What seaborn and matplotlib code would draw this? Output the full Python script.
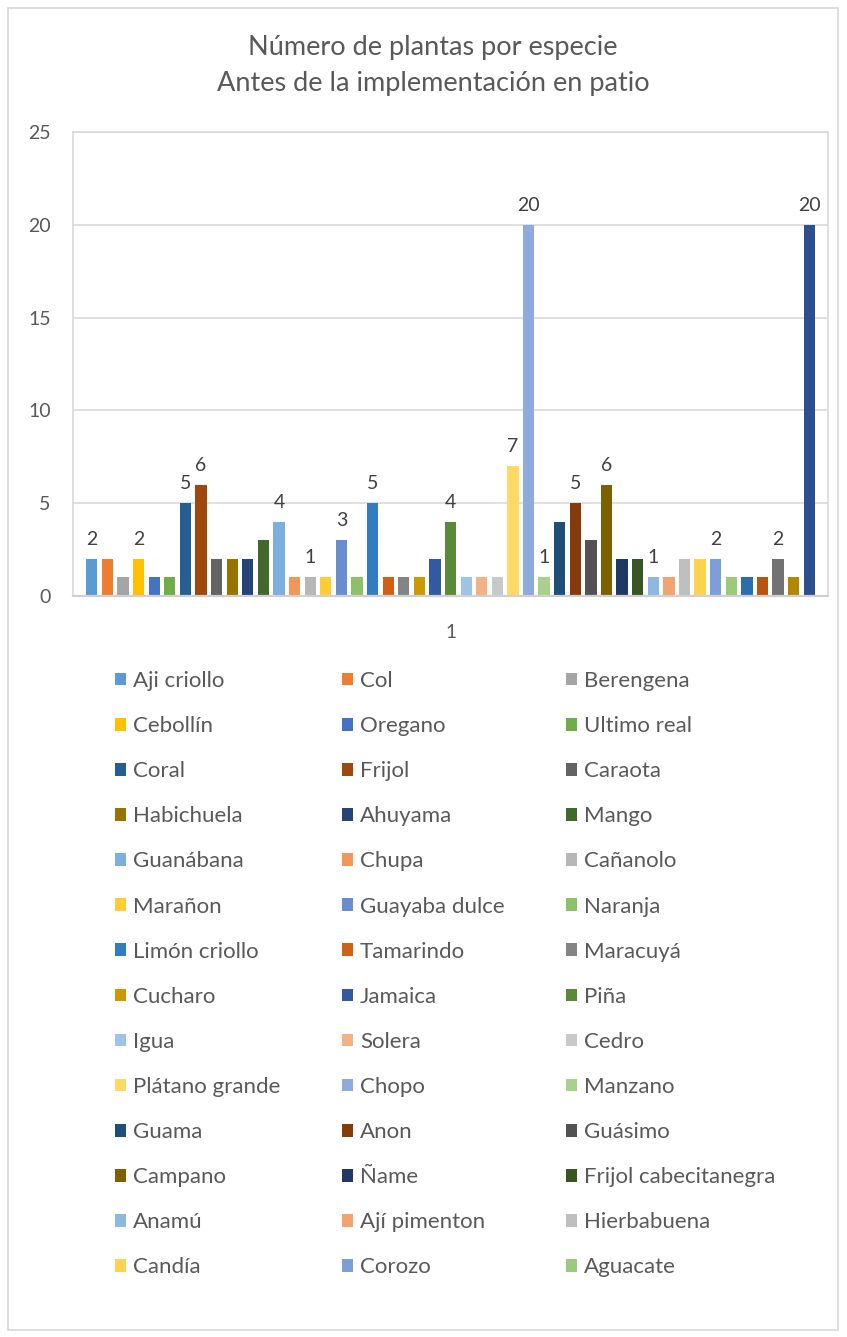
import pandas as pd
import seaborn as sns
import matplotlib.pyplot as plt
from matplotlib.patches import Patch, Rectangle

# Species shown in the legend (Excel only showed the first 42 series)
especies = [
    "Aji criollo", "Col", "Berengena", "Cebollín", "Oregano", "Ultimo real",
    "Coral", "Frijol", "Caraota", "Habichuela", "Ahuyama", "Mango",
    "Guanábana", "Chupa", "Cañanolo", "Marañon", "Guayaba dulce", "Naranja",
    "Limón criollo", "Tamarindo", "Maracuyá", "Cucharo", "Jamaica", "Piña",
    "Igua", "Solera", "Cedro", "Plátano grande", "Chopo", "Manzano",
    "Guama", "Anon", "Guásimo", "Campano", "Ñame", "Frijol cabecitanegra",
    "Anamú", "Ají pimenton", "Hierbabuena", "Candía", "Corozo", "Aguacate",
]
# series drawn in the chart but cut off from the legend
especies_extra = ["Serie 43", "Serie 44", "Serie 45", "Serie 46", "Serie 47"]

cantidades = [
    2, 2, 1, 2, 1, 1,
    5, 6, 2, 2, 2, 3,
    4, 1, 1, 1, 3, 1,
    5, 1, 1, 1, 2, 4,
    1, 1, 1, 7, 20, 1,
    4, 5, 3, 6, 2, 2,
    1, 1, 2, 2, 2, 1,
    1, 1, 2, 1, 20,
]

# only some bars carry a data label in the original
con_etiqueta = [0, 3, 6, 7, 12, 14, 16, 18, 23, 27, 28, 29, 31, 33, 36, 40, 44, 46]

colores = [
    "#5B9BD5", "#ED7D31", "#A5A5A5", "#FFC000", "#4472C4", "#70AD47",
    "#255E91", "#9E480E", "#636363", "#997300", "#264478", "#43682B",
    "#7CAFDD", "#F1975A", "#B7B7B7", "#FFCD33", "#698ED0", "#8CC168",
    "#327DC2", "#D26012", "#848484", "#CC9A00", "#335AA1", "#5A8A39",
    "#9DC3E6", "#F4B183", "#C9C9C9", "#FFD966", "#8FAADC", "#A9D18E",
    "#1F4E79", "#843C0C", "#525252", "#7F6000", "#203864", "#375623",
    "#8CB8E2", "#F2A36F", "#BFBFBF", "#FFD34D", "#7E9ED7", "#9BCA7A",
    "#2C6DAB", "#B85511", "#727272", "#B38700", "#2C4F8D",
]

todas = especies + especies_extra
df = pd.DataFrame({"grupo": "1", "especie": todas, "cantidad": cantidades})

sns.set_style("white")
plt.rcParams["font.family"] = ["Lato", "DejaVu Sans"]
gris = "#595959"

fig = plt.figure(figsize=(8.47, 13.37), dpi=100)
ax = fig.add_axes([0.0862, 0.5542, 0.8914, 0.3471])

sns.barplot(data=df, x="grupo", y="cantidad", hue="especie", hue_order=todas,
            palette=colores, width=0.971, gap=0.28, legend=False,
            saturation=1, linewidth=0, edgecolor="none", ax=ax)

for i in con_etiqueta:
    ax.bar_label(ax.containers[i], padding=8, fontsize=14, color="#404040")

ax.set_ylim(0, 25)
ax.set_xlim(-0.5, 0.5)
ax.set_yticks(range(0, 26, 5))
ax.set_xlabel("")
ax.set_ylabel("")
ax.tick_params(axis="y", length=0, labelsize=14, labelcolor=gris, pad=16)
ax.tick_params(axis="x", length=0, labelsize=13.5, labelcolor=gris, pad=20)
ax.yaxis.grid(True, color="#D9D9D9", linewidth=1.2)
ax.set_axisbelow(True)
for lado in ["left", "right", "top"]:
    ax.spines[lado].set_color("#D9D9D9")
    ax.spines[lado].set_linewidth(1.2)
ax.spines["bottom"].set_color("#D0D0D0")
ax.spines["bottom"].set_linewidth(1.6)

fig.text(0.511, 1 - 47 / 1337, "Número de plantas por especie",
         ha="center", va="center", fontsize=19.5, color=gris)
fig.text(0.511, 1 - 83 / 1337, "Antes de la implementación en patio",
         ha="center", va="center", fontsize=19.5, color=gris)

# legend filled row by row like Excel
n_filas = len(especies) // 3
orden = [f * 3 + c for c in range(3) for f in range(n_filas)]
handles = [Patch(facecolor=colores[i], edgecolor="none") for i in orden]
labels = [especies[i] for i in orden]
fig.legend(handles, labels, loc="upper left",
           bbox_to_anchor=(115 / 847, 1 - 671 / 1337), ncol=3,
           frameon=False, fontsize=16, labelcolor=gris,
           handlelength=0.5, handleheight=0.5, handletextpad=0.32,
           columnspacing=2.75, labelspacing=1.13, borderaxespad=0,
           borderpad=0)

fig.patches.append(Rectangle((8 / 847, 1 - 1330 / 1337), 830 / 847, 1322 / 1337,
                             transform=fig.transFigure, fill=False,
                             edgecolor="#D9D9D9", linewidth=1.2))

fig.savefig("out.png", dpi=100)
